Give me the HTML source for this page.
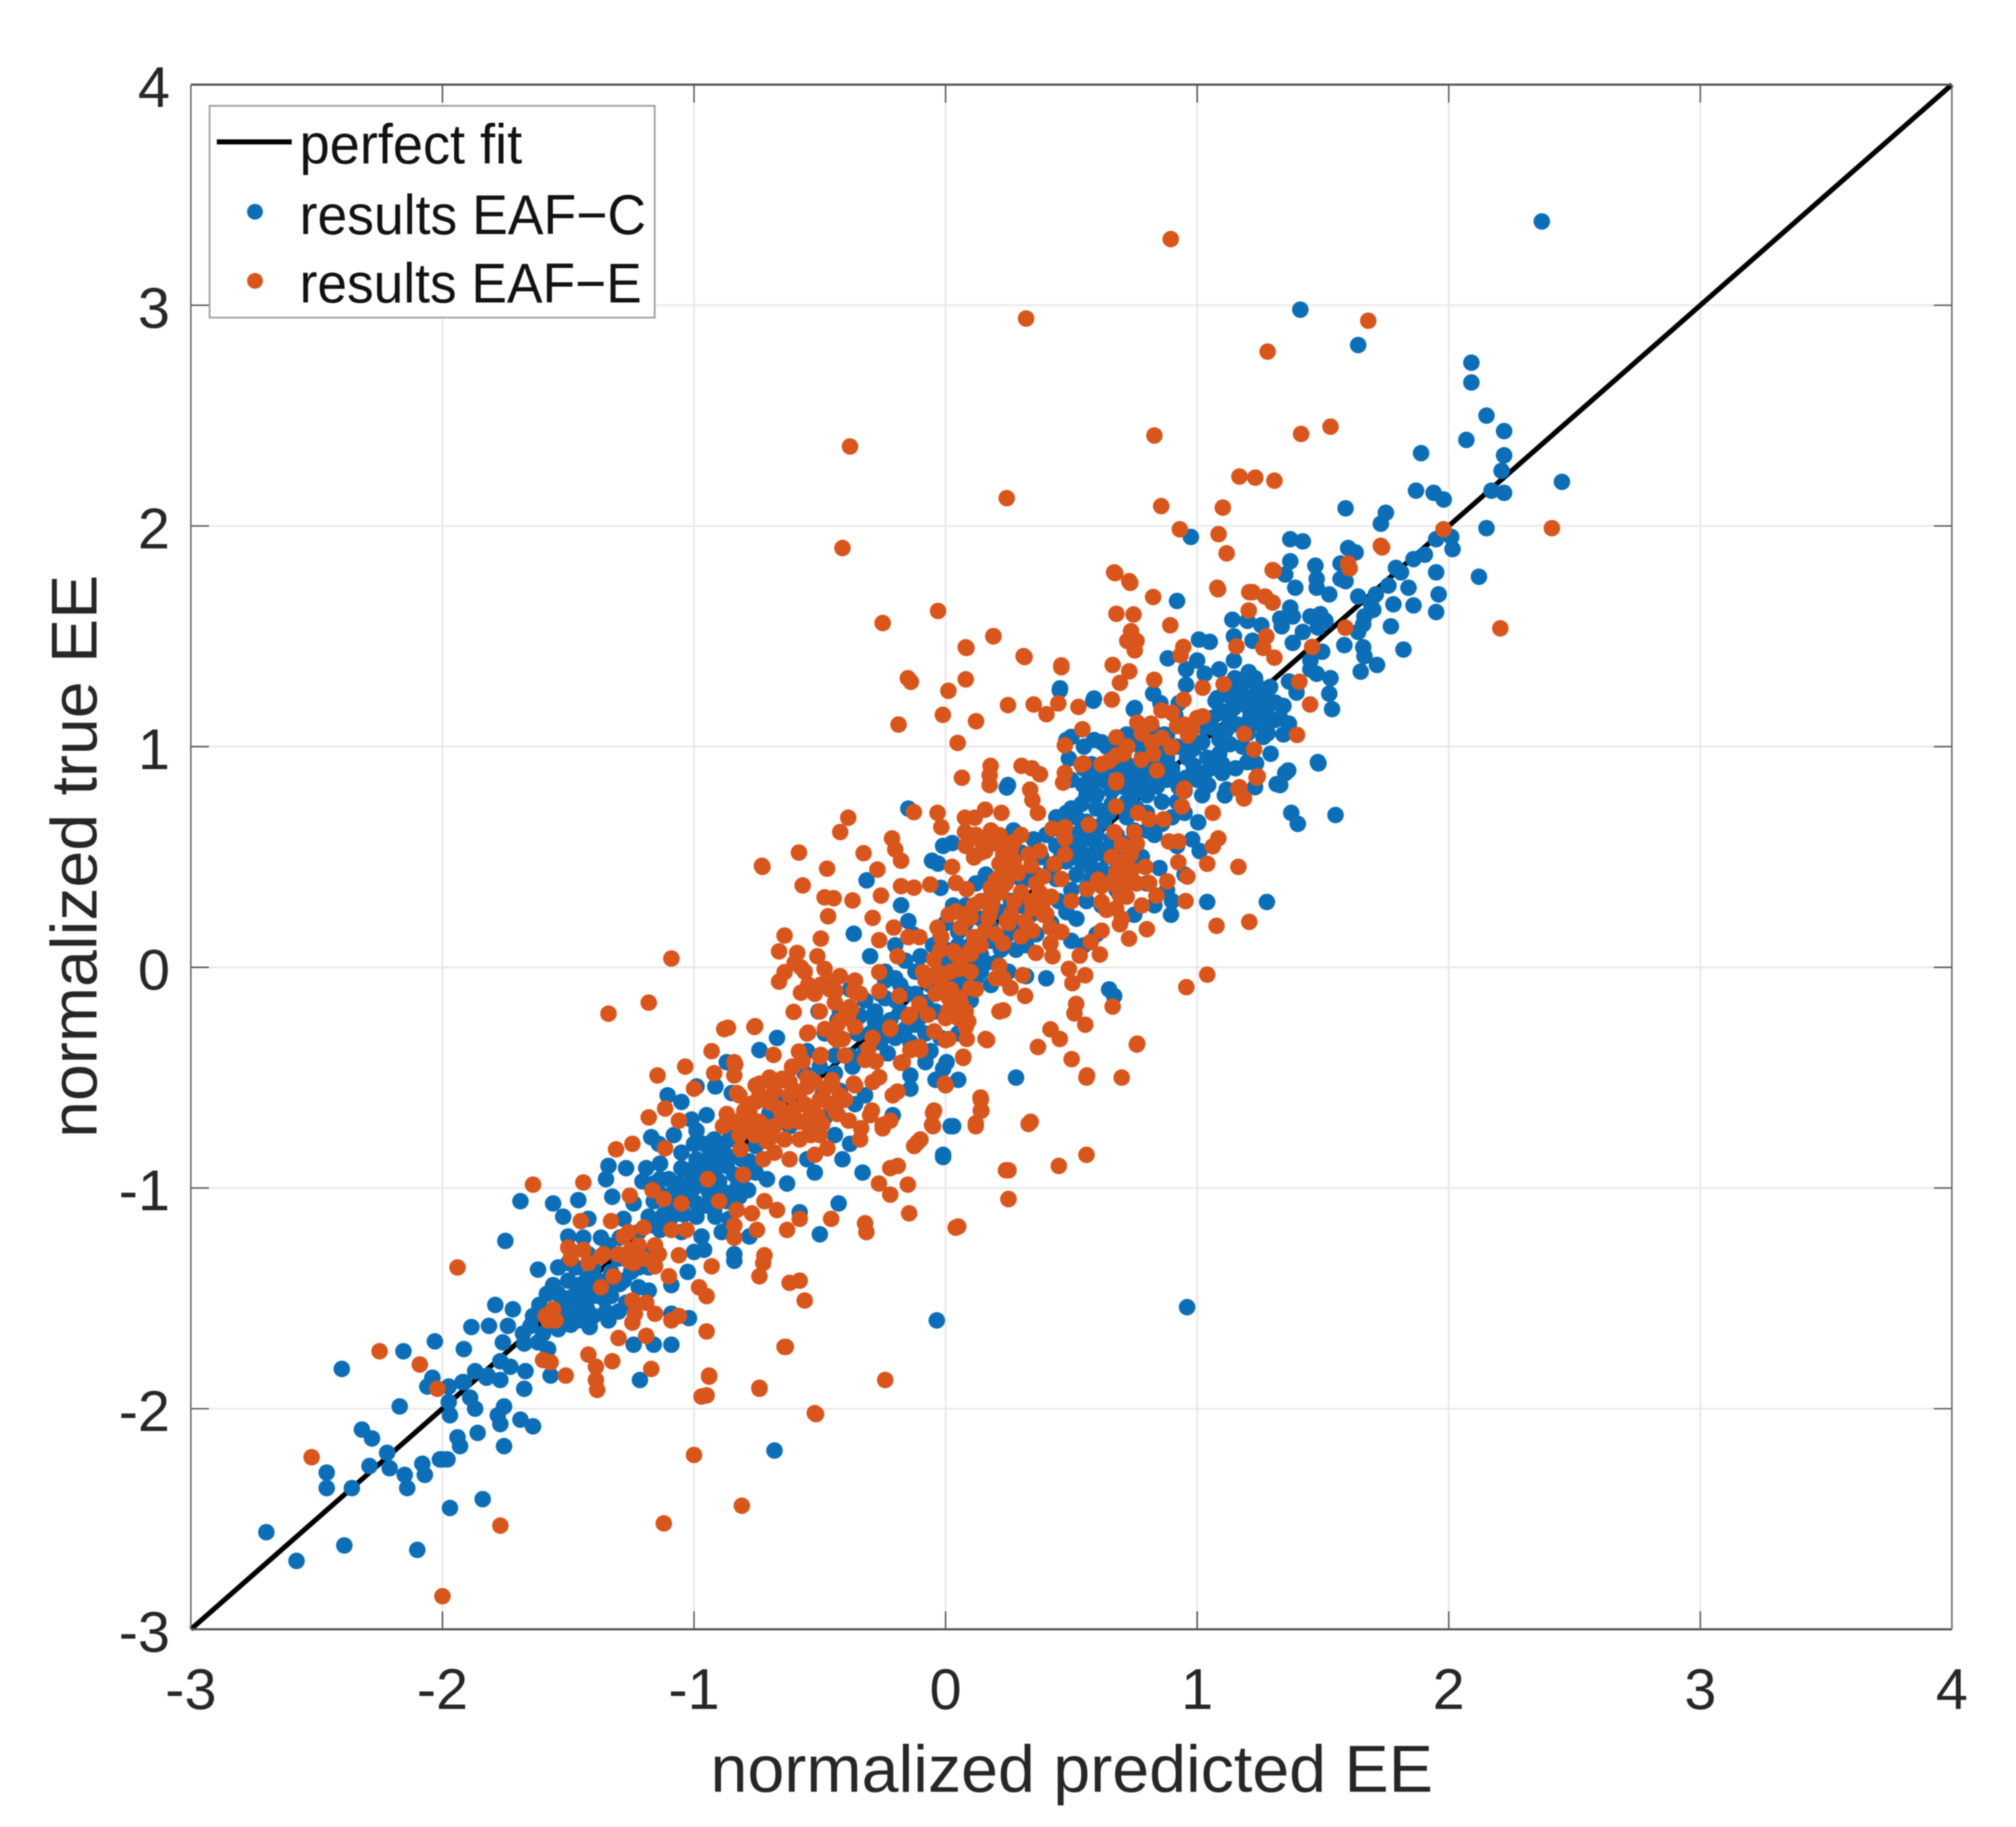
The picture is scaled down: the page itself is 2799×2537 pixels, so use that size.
<!DOCTYPE html>
<html lang="en">
<head>
<meta charset="utf-8">
<title>Normalized predicted vs true EE</title>
<style>
html,body{margin:0;padding:0;background:#fff;width:2799px;height:2537px;overflow:hidden}
svg{display:block;font-family:"Liberation Sans",sans-serif;filter:blur(0.7px)}
</style>
</head>
<body>
<svg id="chart" xmlns="http://www.w3.org/2000/svg" width="2799" height="2537" viewBox="0 0 2799 2537">
<rect x="0" y="0" width="2799" height="2537" fill="#ffffff"/>
<g id="grid"></g>
<g id="fit"></g>
<g id="seriesC"></g>
<g id="seriesE"></g>
<g id="axes"></g>
<text x="1488" y="2488" font-size="92" fill="#262626" text-anchor="middle" textLength="1003" lengthAdjust="spacingAndGlyphs">normalized predicted EE</text>
<text transform="translate(134,1189) rotate(-90)" font-size="90" fill="#262626" text-anchor="middle" textLength="782" lengthAdjust="spacingAndGlyphs">normalized true EE</text>
<g>
<rect x="291" y="147" width="618" height="294" fill="#ffffff" stroke="#a0a0a0" stroke-width="2.5"/>
<line x1="301" y1="197" x2="405" y2="197" stroke="#000" stroke-width="7"/>
<text x="416" y="227" font-size="78" fill="#111" textLength="309" lengthAdjust="spacingAndGlyphs">perfect fit</text>
<circle cx="354" cy="294" r="11" fill="#0B6EB6"/>
<text x="416" y="325" font-size="78" fill="#111" textLength="481" lengthAdjust="spacingAndGlyphs">results EAF−C</text>
<circle cx="354" cy="390" r="11" fill="#D8551C"/>
<text x="416" y="420" font-size="78" fill="#111" textLength="475" lengthAdjust="spacingAndGlyphs">results EAF−E</text>
</g>
</svg>
<script>
const xTicks = [-3,-2,-1,0,1,2,3,4];
const yTicks = [-3,-2,-1,0,1,2,3,4];
const fitLine = [-3,4];
const eafC = [
[2.37,3.38],[1.41,2.98],[1.64,2.82],[2.09,2.74],[2.09,2.65],[2.15,2.5],[2.22,2.43],[2.07,2.39],[1.89,2.33],[2.22,2.32],[2.21,2.25],[2.45,2.2],[1.87,2.16],[1.94,2.15],[1.98,2.12],[2.17,2.16],[2.22,2.15],[1.59,2.08],[1.75,2.06],[1.73,2.01],[2.15,1.99],[.975,1.95],[1.37,1.94],[1.42,1.93],[2.015,1.895],[1.95,1.94],[2.01,1.95],[1.905,1.87],[1.86,1.85],[1.6,1.9],[1.63,1.88],[1.57,1.83],[1.6,1.82],[1.57,1.76],[1.59,1.75],[1.37,1.84],[1.35,1.78],[1.47,1.82],[1.475,1.76],[1.475,1.72],[1.39,1.72],[1.525,1.69],[1.79,1.81],[1.81,1.79],[1.95,1.79],[2.12,1.77],[1.76,1.73],[1.84,1.72],[1.96,1.69],[1.64,1.68],[1.71,1.69],[1.69,1.65],[1.78,1.645],[1.86,1.64],[1.95,1.61],[1.7,1.62],[1.665,1.59],[1.77,1.545],[1.66,1.555],[1.64,1.52],[1.585,1.46],[1.82,1.44],[1.66,1.45],[1.665,1.41],[1.715,1.37],[1.65,1.34],[.92,1.66],[1.53,1.31],[1.525,1.24],[1.536,1.17],
[1.14,1.575],[1.2,1.57],[1.255,1.55],[1.37,1.63],[1.33,1.58],[1.38,1.59],[1.45,1.59],[1.49,1.6],[1.51,1.57],[1.42,1.52],[1.48,1.54],[1.38,1.47],[1.336,1.545],[1.146,1.5],[1.22,1.48],[1.007,1.485],[1.05,1.475],[.883,1.4],[1,1.39],[.956,1.35],[1.088,1.35],[1.03,1.33],[1.146,1.39],[1.497,1.43],[1.45,1.39],[1.45,1.35],[1.475,1.33],[.956,1.28],[1.365,1.295],[1.395,1.245],
[1.205,1.338],[1.175,1.283],[1.234,1.283],[1.13,1.229],[1.19,1.229],[1.263,1.229],[1.073,1.207],[1.146,1.175],[1.205,1.175],[1.277,1.175],[1.343,1.185],[1.088,1.153],[1.13,1.12],[1.248,1.131],[1.307,1.12],[1.058,1.087],[1.117,1.077],[1.365,1.104],[1.343,1.055],[1.088,1.033],[1.13,1.011],[1.263,1.044],[1.292,.968],[1.234,.924],[1.153,.902],[1.088,.968],[1.03,1.087],[.985,.99],[.985,.914],[1.03,.881],[.956,.859],[1.044,.826],[.927,.816],[.825,1.24],[.854,1.197],[.752,1.175],[.927,1.197],[.59,1.218],[.455,1.264],[.913,1.142],[1.482,.924],[1.362,.892],[1.33,.826],[1.23,.816],[1.117,.805],[.248,.826],[.5,1.044],[.59,1.03],[.64,1],[.72,1.055],[.81,1.05],[.87,1.055],[.766,1.01],[.49,.946],[.577,.87],[.6,.85],[.752,.88],[.78,.837],[.737,.826],[.62,.86],[.547,.826],
[.454,1.255],[.587,1.208],[.748,1.169],[.243,.815],[-.148,.719],[.026,.563],[-.054,.483],[-.314,.394],[-.177,.281],[-.148,.209],[-.365,.152],[1.04,.296],[1.277,.296],[.896,.238],[.75,.238],[.83,.281],[1.01,.527],[1.11,.779],[1.004,.657],[1.374,.7],[1.316,.83],[1.35,.88],[1.55,.69],[1.4,.65],[1.48,.93],[.65,-.1],[.67,-.13],[.28,-.5],[.02,-.72],[-.01,-.86],
[.5,.85],[.55,.9],[.62,.88],[.72,.92],[.78,.95],[.85,.98],[.5,.72],[.56,.78],[.6,.72],[.66,.8],[.72,.75],[.78,.82],[.8,.7],[.86,.75],[.48,.62],[.52,.68],[.58,.64],[.63,.66],[.68,.6],[.75,.62],[.83,.6],[.9,.68],[.44,.55],[.5,.56],[.55,.58],[.6,.55],[.64,.5],[.7,.5],[.78,.5],[.85,.45],[.38,.5],[.42,.45],[.48,.48],[.52,.42],[.58,.4],[.62,.38],[.35,.58],[.3,.52],[.27,.62],[.92,.85],[.95,.8],[.9,.9],[.96,.95],[1,.85],[1.02,.78],[.95,.7],[1.05,.9],[1.1,.88],[.98,1],[.88,1.05],[.82,1.08],[.75,1.03],[.68,1],[.62,1.02],[.55,1],[.48,1.03],[.58,.5],[.54,.48],[.66,.58],[.72,.68],[.76,.72],[.82,.88],[.58,.92],[.65,.7],[.54,.62],[.68,.44],[.56,.3],[.62,.28],[.72,.4],[.8,.38],[.88,.35],[.92,.55],[.98,.58],[.95,.42],[.9,.3],
[.25,.45],[.2,.35],[.15,.3],[.12,.38],[.22,.25],[.27,.18],[.32,.1],[.36,.15],[.42,.2],[.48,.25],[.5,.12],[.55,.1],[.6,.15],[.52,.22],[.45,.3],[.38,.33],[.3,.28],[.18,.18],[.12,.12],[.08,.2],[.05,.1],[.1,.03],[.16,.02],[.22,.08],[.03,.28],[-.02,.36],[-.03,.47],[0,.2],[-.01,.55],[.05,-.05],[0,.02],[-.05,.1],[-.1,.05],[-.12,-.02],[-.06,-.08],[.02,-.12],[.1,-.15],[.18,-.08],[.25,-.02],[.32,-.04],[.4,-.05],[.12,-.05],[-.2,-.05],[-.26,-.12],[-.32,-.15],[-.28,-.25],[-.35,-.3],[-.2,-.15],[-.15,-.12],[-.1,-.2],[-.24,-.02],[-.3,.05],[-.16,.03],[-.2,.1],[-.13,.15],[-.08,-.3],[-.02,-.32],[.05,-.3],[-.38,-.1],[-.42,-.2],[-.48,-.3],[-.55,-.38],
[-.67,-.32],[-.74,-.375],[-.505,-.2],[-.43,-.24],[-.28,-.21],[-.24,-.29],[-.11,-.24],[-.23,-.39],[-.14,-.49],[-.08,-.43],[.004,-.43],[.05,-.51],[-.04,-.51],[-.14,-.55],[-.01,-.46],[-.5,-.45],[-.44,-.4],[-.37,-.45],[-.49,-.58],[-.42,-.56],[-.32,-.58],[-.36,-.62],[-.44,-.62],[-.21,-.67],[-.01,-.85],[.03,-.72],[-.41,-.87],[-.33,-.93],[-.52,-.93],[-.55,-.87],[-.425,-1.07],[-.5,-1.21],[-.035,-1.6],[.96,-1.54],[-.68,-2.19],
[-1.105,-.58],[-1.05,-.61],[-.99,-.54],[-.915,-.54],[-.85,-.57],[-.87,-.43],[-1.01,-.69],[-.95,-.67],[-.99,-.74],[-1.17,-.77],[-1.34,-.9],[-1.27,-.91],[-1.35,-.96],[-1.19,-.91],[-1.135,-.89],[-1.205,-.97],[-1.135,-.96],[-1.05,-.84],[-1.05,-.91],[-.99,-.87],[-.945,-.81],[-.885,-.83],[-.83,-.74],[-.77,-.69],[-.87,-.9],[-.81,-.87],[-.755,-.81],[-.97,-.96],[-.9,-.97],[-.83,-1],[-.785,-1.01],[-.87,-1.06],[-1.02,-.985],[-1.09,-1.03],[-1.16,-1.06],[-1.24,-1.07],[-.99,-1.07],[-.915,-1.13],[-.99,-1.13],[-1.076,-1.12],[-1.18,-1.13],[-1.135,-1.19],[-1.05,-1.2],[-.755,-.93],[-.71,-.96],[-.63,-.98],[-.58,-1.11],[-.89,-1.2],[-.97,-1.22],[-.96,-1.28],[-1,-1.29],[-.84,-1.3],[-.84,-1.33],[-.78,-1.22],[-1.025,-1.38],[-1.09,-1.44],[-1.02,-1.59],[-1.09,-1.57],[-1.24,-1.71],[-1.16,-1.71],[-1.09,-1.71],[-1.215,-1.87],[-.92,-.78],[-.86,-.78],[-1,-.8],[-.93,-.9],[-1.1,-.96],
[-1.69,-1.06],[-1.56,-1.07],[-1.46,-1.055],[-1.325,-1.04],[-1.52,-1.13],[-1.42,-1.14],[-1.28,-1.14],[-1.5,-1.22],[-1.44,-1.225],[-1.37,-1.225],[-1.295,-1.225],[-1.22,-1.2],[-1.16,-1.17],[-1.75,-1.24],[-1.62,-1.37],[-1.54,-1.36],[-1.47,-1.36],[-1.4,-1.36],[-1.33,-1.38],[-1.25,-1.38],[-1.18,-1.36],[-1.5,-1.42],[-1.425,-1.41],[-1.295,-1.435],[-1.22,-1.45],[-1.18,-1.465],[-1.54,-1.48],[-1.47,-1.48],[-1.4,-1.49],[-1.33,-1.49],[-1.27,-1.52],[-1.585,-1.48],[-1.615,-1.53],[-1.53,-1.54],[-1.425,-1.55],[-1.35,-1.56],[-1.34,-1.6],[-1.49,-1.62],[-1.54,-1.64],[-1.415,-1.63],[-1.65,-1.625],[-1.6,-1.66],[-1.79,-1.53],[-1.72,-1.55],[-1.885,-1.63],[-1.815,-1.625],[-1.74,-1.625],[-2.03,-1.695],[-1.915,-1.73],[-1.76,-1.7],[-1.675,-1.705],[-1.58,-1.73],[-1.77,-1.785],[-1.73,-1.81],[-1.67,-1.83],[-1.57,-1.85],[-1.87,-1.83],[-1.825,-1.86],[-1.77,-1.87],[-1.675,-1.91],[-1.915,-1.88],[-1.975,-1.9],[-1.89,-1.95],[-1.975,-1.97],[-1.87,-2],[-1.97,-2.03],[-1.755,-1.99],[-1.78,-2.03],[-1.77,-2.07],[-1.69,-2.05],[-1.64,-2.08],[-1.86,-2.11],[-1.94,-2.13],[-1.93,-2.17],[-1.755,-2.17],[-2.01,-2.23],[-1.98,-2.23],[-1.84,-2.41],[-1.97,-2.45],
[-2.155,-1.74],[-2.4,-1.82],[-2.04,-1.86],[-2.06,-1.9],[-1.92,-1.88],[-1.82,-1.85],[-2.17,-1.99],[-2.32,-2.095],[-2.28,-2.135],[-2.22,-2.2],[-2.29,-2.26],[-2.21,-2.27],[-2.46,-2.29],[-2.46,-2.36],[-2.36,-2.36],[-2.15,-2.3],[-2.14,-2.36],[-2.08,-2.25],[-2.07,-2.3],[-2,-2.23],[-2.7,-2.56],[-2.58,-2.69],[-2.39,-2.62],[-2.1,-2.64],
[1.02,1.02],[1.06,1.13],[1.1,1.05],[1.12,1.16],[1.16,1.1],[1.16,1.22],[1.2,1.06],[1.21,1.13],[1.22,1.22],[1.25,1.1],[1.26,1.18],[1.29,1.27],[1.31,1.2],[1.18,1],[1.12,1.27],[1.08,1.22],[1.04,.95],[1.15,1.31],[1.23,1.31],[1.28,1.06],[1.33,1.13],[1.1,.92],[1.2,.93],
[.72,.85],[.76,.88],[.8,.92],[.84,.82],[.88,.85],[.74,.78],[.7,.82],[.68,.9],[.8,.78],[.84,.9],[.88,.95],[.92,1],[.92,.75],[.78,1],[.7,.95],[.66,.74],[.64,.84],[.58,.84],[.54,.74],[.6,.78],[.86,.65],[.8,.62],
[.46,.5],[.5,.5],[.54,.52],[.58,.45],[.6,.6],[.66,.54],[.62,.44],[.56,.36],[.5,.35],[.44,.4],[.46,.62],[.52,.6],[.56,.66],[.48,.7],[.44,.68],[.4,.6],[.36,.42],[.33,.4],[.68,.35],[.72,.56],[.74,.46],
[0,.08],[.06,.05],[.1,.1],[.14,.06],[.18,.12],[.2,.02],[.24,.14],[.28,.08],[.05,.16],[-.02,.14],[-.04,.04],[.02,-.04],[.08,-.08],[.14,-.02],[.3,.2],[.34,.24],[.26,.3],[.14,.22],[.08,.28],[.2,.4],[.3,.4],[.16,.42],
[-.28,-.2],[-.24,-.14],[-.22,-.24],[-.18,-.2],[-.16,-.28],[-.12,-.12],[-.12,-.26],[-.08,-.16],[-.3,-.3],[-.26,-.34],[-.2,-.32],[-.34,-.22],[-.18,-.08],[-.24,-.06],[-.04,-.2],[-.14,-.34],[-.06,-.38],[-.32,-.38],[-.38,-.4],[-.44,-.48],[-.56,-.48],[-.6,-.56],[-.66,-.6],[-.7,-.66],[-.62,-.72],[-.56,-.7],[-.48,-.68],[-.44,-.76],[-.38,-.8],
[-.98,-.92],[-.94,-.86],[-.9,-.9],[-.86,-.86],[-.84,-.94],[-.92,-.94],[-.88,-1.02],[-.94,-1.02],[-1,-1],[-1.04,-1.04],[-1.08,-1.1],[-1.12,-1.12],[-1.14,-1.02],[-1.06,-.98],[-1.02,-.92],[-.96,-1.08],[-.92,-1.1],[-.82,-1.04],[-.8,-.94],[-.78,-.88],[-.9,-.84],[-.96,-.8],[-1.08,-.76],[-1.14,-.8],[-1.1,-1.16],[-1.04,-1.12],[-.86,-1.14],[-1.16,-.98],
[-1.5,-1.5],[-1.46,-1.44],[-1.44,-1.52],[-1.42,-1.46],[-1.38,-1.42],[-1.36,-1.5],[-1.32,-1.44],[-1.3,-1.32],[-1.28,-1.42],[-1.26,-1.3],[-1.48,-1.56],[-1.52,-1.6],[-1.56,-1.56],[-1.58,-1.6],[-1.46,-1.6],[-1.4,-1.58],[-1.3,-1.56],[-1.22,-1.36],[-1.2,-1.3],[-1.34,-1.26],[-1.42,-1.3],[-1.5,-1.34],[-1.56,-1.44],[-1.64,-1.58],[-1.68,-1.66],[-1.62,-1.7]
];
const eafE = [
[.895,3.3],[.32,2.94],[1.68,2.93],[1.28,2.79],[.83,2.41],[1.413,2.417],[1.53,2.45],[-.38,2.36],[1.168,2.224],[1.231,2.219],[1.307,2.205],[.243,2.126],[.857,2.09],[1.102,2.083],[.931,1.985],[1.085,1.963],[1.117,1.876],[1.979,1.985],[2.41,1.99],[-.41,1.9],[1.735,1.903],[1.606,1.808],[1.304,1.797],[.674,1.786],[.734,1.742],[.825,1.678],[1.083,1.713],[1.207,1.7],[1.27,1.68],[1.3,1.653],[1.205,1.617],[.679,1.602],[.747,1.599],[.893,1.55],[.737,1.523],[.722,1.479],[.759,1.479],[.752,1.436],[1.589,1.539],[2.205,1.536],[.19,1.501],[.083,1.447],[.314,1.406],[.46,1.368],[.664,1.37],[.73,1.341],[.08,1.305],[.011,1.253],[.693,1.289],[.829,1.303],[.248,1.188],[.35,1.191],[.401,1.147],[.448,1.196],[.528,1.18],[.661,1.213],[-.011,1.144],[.121,1.115],[.858,1.164],[.762,1.109],[.817,1.104],[.946,1.213],[1.022,1.267],[1.105,1.283],[1.156,1.454],[1.263,1.447],[1.307,1.403],[1.457,1.452],[.945,1.452],[.934,1.414],[1.275,1.5],[1.406,1.294],[1.449,1.191],[.9,1.153],[1.022,1.137],[.92,1.093],[.964,1.05],[1.187,1.058],[1.397,1.053],[1.226,.987],[1.241,.865],[.544,1.079],[.679,1.042],[.474,1.006],[.723,1],[.825,.968],[.898,.995],[.708,.968],[.65,.935],[.778,.941],[.54,.919],[.474,.881],[.467,.837],[.302,.913],[.343,.902],[.375,.875],[.179,.913],[.175,.87],[.175,.826],[.065,.859],[.679,.848],[.84,.892],[.949,.81],[1.168,.816],[.336,.805],[.048,1.017],[-.03,1.615],
[-.138,1.294],[-.187,1.1],[-.25,1.56],[-.15,1.31],[.08,1.45],[.31,1.41],[.46,1.36],[.19,1.5],
[.548,.924],[.678,.837],[.946,.8],[.939,.729],[1.062,.7],[1.236,.859],[1.164,.808],[1.186,.765],[1.084,.584],[1.062,.548],[1.04,.469],[1.164,.455],[.925,.476],[.881,.39],[.961,.411],[.954,.3],[1.077,.188],[1.207,.206],[1.04,-.033],[.957,-.09],[.8,.173],[.729,.13],[.613,.058],[.533,.053],[.577,.115],[.62,.166],[.562,.354],[.606,.397],[.678,.426],[.678,.729],[.57,.646],[.425,.628],[.475,.635],[.475,.584],[.345,.758],[.367,.7],[.765,.7],[.809,.671],[.867,.671],[.888,.57],[.925,.57],[.671,.613],[.7,.556],[.75,.613],[.736,.512],[.794,.455],[.809,.382],[.693,.455],[.722,.382],[.693,.325],[.62,.368],[.62,.296],[.678,.267],[.693,.195],[.838,.325],
[-.032,.7],[-.017,.635],[-.126,.703],[-.213,.584],[-.2,.534],[-.177,.483],[-.387,.678],[-.419,.613],[-.583,.52],[-.728,.455],[-.471,.447],[-.326,.517],[-.271,.443],[-.568,.371],[-.481,.317],[-.445,.313],[-.37,.303],[-.467,.231],[-.29,.224],[-.257,.325],[-.177,.368],[-.126,.361],[-.061,.375],[.077,.678],[.116,.678],[.157,.714],[.222,.7],[.077,.613],[.128,.584],[.214,.599],[.272,.57],[.157,.527],[.113,.498],[.229,.512],[.214,.469],[.272,.483],[.33,.512],[.374,.527],[.287,.426],[.229,.426],[.2,.397],[.388,.411],[.475,.512],[.432,.469],[.026,.455],[.041,.382],[.084,.354],[.374,.339],[.388,.296],[.345,.267],[.272,.296],[.186,.296],[.113,.281],[.041,.253],[.012,.238],[.099,.224],[.171,.224],[.243,.209],[.316,.209],[.388,.238],[.345,.166],[.417,.18],[.417,.108],[.359,.065],[.425,.05],[.229,.108],[.157,.166],[.113,.137],[-.032,.18],[-.104,.137],[-.148,.137],[-.206,.18],[-.264,.123],[-.017,.137],[.033,.072],[.055,-.007],[.214,.007],[.2,-.05],[.258,-.094],[.229,-.05],[.316,-.13],[.306,-.036],[.49,-.007],[.504,-.072],[.555,-.036],[.664,-.178],[.519,-.166],[.512,-.209],[.555,-.26],[.762,-.346],[.417,-.281],[.454,-.325],[.367,-.361],[.501,-.416],[.562,-.49],[.338,-.7],[.229,-.195],[.214,-.2],[.159,-.325],[.139,-.59],[.142,-.65],[.12,-.707],[-.046,-.649],[-.054,-.714],[-.112,-.794],
[-.51,.05],[-.481,-.007],[-.452,-.065],[-.496,-.079],[-.438,-.108],[-.546,-.079],[-.662,-.065],[-.64,-.022],[-.59,.065],[-.662,.072],[-.64,.144],[-.496,.13],[-.575,0],[-.575,-.115],[-.365,-.108],[-.394,-.195],[-.604,-.202],[-.757,-.267],[-.865,-.274],[-.546,-.296],[-.409,-.325],[-.307,-.368],[-.278,-.426],[-.568,-.426],[-.61,-.455],[-.496,-.397],[-.684,-.397],[-.264,-.498],[-.191,-.563],[-.365,-.527],[-.452,-.512],[-.55,-.541],[-.638,-.512],[-.739,-.527],[-.836,-.44],[-.264,-.022],[-.191,.05],[-.046,.036],[-.09,-.022],[-.032,-.022],[.099,-.094],[.055,-.137],[.012,-.137],[.07,-.224],[.012,-.195],[-.104,-.166],[-.148,-.224],[-.22,-.274],[-.264,-.108],[-.184,-.13],[-.133,-.368],[-.104,-.361],[-.177,-.433],[.012,-.325],[.084,-.325],[.07,-.411],[-.003,-.527],[-.829,-.57],[-.583,-.382],[-.438,-.656],[-.539,-.743],[-.699,-.613],[-.8,-.656],[-.336,-.729],[-.293,-.649],[-.25,-.714],[-.51,-.671],[-.626,-.7],[-.713,-.787],[-.843,-.7],
[-1.34,-.21],[-1.18,-.16],[-1.09,.04],[-.73,.46],[-.88,-.28],[-.76,-.27],[-.93,-.38],[-1.035,-.45],[-1.145,-.49],[-.84,-.43],[-.84,-.49],[-.92,-.48],[-1.18,-.68],[-1.115,-.64],[-1.06,-.695],[-1,-.55],[-1.31,-.825],[-1.245,-.8],[-1.115,-.82],[-1.64,-.985],[-1.44,-.975],[-1.255,-1.035],[-1.165,-1.01],[-1.12,-1.05],[-1.05,-1.07],[-.945,-.96],[-.815,-.825],[-.805,-.94],[-.9,-1.06],[-.83,-1.1],[-.77,-1.115],[-.72,-1.06],[-.67,-1.1],[-.63,-1.19],[-.58,-1.14],[-.84,-1.17],[-.84,-1.225],[-.75,-1.19],[-1.45,-1.15],[-1.33,-1.15],[-1.5,-1.27],[-1.49,-1.32],[-1.37,-1.31],[-1.25,-1.28],[-1.22,-1.26],[-1.155,-1.26],[-1.26,-1.33],[-1.155,-1.355],[-1.09,-1.19],[-1.03,-1.19],[-1.06,-1.305],[-1.37,-1.45],[-1.1,-1.4],[-.93,-1.355],[-.98,-1.45],[-.95,-1.49],[-.72,-1.305],[-.725,-1.34],[-.74,-1.4],[-.62,-1.43],[-.58,-1.42],[-.56,-1.51],[-1.245,-1.51],[-1.19,-1.52],[-1.235,-1.57],[-1.245,-1.61],[-1.155,-1.57],[-1.09,-1.6],[-1.06,-1.58],[-.95,-1.65],[-1.3,-1.68],[-1.19,-1.67],[-1.42,-1.755],[-1.59,-1.58],[-1.56,-1.55],[-1.6,-1.78],[-1.57,-1.79],[-1.51,-1.85],[-1.39,-1.81],[-1.325,-1.785],[-1.39,-1.87],[-1.385,-1.915],[-1.17,-1.82],[-.94,-1.855],[-.97,-1.945],[-.74,-1.905],[-.24,-1.87],[-.635,-1.72],[-.515,-2.025],[-1,-2.21],[-.81,-2.44],[-.265,-.98],[-.22,-.91],[-.19,-.9],[-.15,-.985],[-.22,-1.03],[-.145,-1.115],[.05,-1.175],[-.32,-1.16],[-.315,-1.2],[-.455,-1.14],[-.52,-.85],[-.47,-.82],[-.25,-.73],[-.22,-.695],[-.3,-.67],[-.125,-.81],[-.1,-.78],[-.05,-.66],[-.05,-.72],[.12,-.72],[.14,-.65],[.14,-.6],[.24,-.92],[.25,-1.05],[.165,-.33],
[-.87,-.665],[-.8,-.65],[-.755,-.535],[-.755,-.61],[-.695,-.61],[-.885,-.72],[-.65,-.665],[-.65,-.505],[-.61,-.45],[-.58,-.565],[-.535,-.635],[-.61,-.68],[-.43,-.665],[-.385,-.695],[-.49,-.71],[-.535,-.76],[-.34,-.78],[-.695,-.77],[-.68,-.84],[-.725,-.87],[-.62,-.87],[-.52,-.52],[-.45,-.535],[-.36,-.535],[-.29,-.52],[-.32,-.42],[-.43,-.33],[-.43,-.26],[-.36,-.27],[-.29,-.32],[-.14,-.375],[-.1,-.375],[-.21,-.58],[0,-.535],[-.55,-.3],[-.5,-.405],[0,-.33],[.07,-.405],[-.045,-.29],[-.22,-.28],[-.14,-.215],[-.07,-.215],[.05,-.23],[.09,-.245],[.035,-.2],[-.39,-.23],[-.375,-.19],[-.17,-.43],[0,-.23],[.08,-.27],
[-2.25,-1.74],[-2.09,-1.8],[-2.02,-1.91],[-2.52,-2.22],[-1.77,-2.53],[-2,-2.85],[-1.94,-1.36],[-1.12,-2.52],[-.64,-1.72],[-.74,-1.91],[.04,-1.18],[.25,-1.05],[.25,-.92],[.45,-.9],[.56,-.85],[.33,-.71],[.76,-.35],[.56,-.5],[.7,-.5],[-.94,-1.85],[-.95,-1.94],[-.52,-2.02],
[1.73,1.91],[1.6,1.83],[1.22,1.7],[1.3,1.8],[1.08,1.72],[.67,1.79],[.73,1.75],
[-.72,-.6],[-.68,-.56],[-.66,-.64],[-.62,-.58],[-.6,-.64],[-.58,-.7],[-.56,-.62],[-.54,-.68],[-.5,-.6],[-.48,-.55],[-.46,-.62],[-.42,-.58],[-.4,-.6],[-.62,-.52],[-.68,-.72],[-.74,-.7],[-.78,-.62],[-.7,-.5],[-.55,-.5],[-.64,-.78],[-.58,-.78],[-.5,-.76],[-.82,-.76],
[-.46,-.1],[-.44,-.16],[-.42,-.24],[-.38,-.18],[-.36,-.06],[-.34,-.12],[-.5,-.2],[-.48,-.28],[-.44,-.32],[-.4,-.4],[-.52,-.12],[-.56,-.02],[-.6,.02],[-.42,-.04],
[.14,.3],[.18,.26],[.22,.34],[.26,.24],[.3,.34],[.34,.3],[.36,.38],[.42,.32],[.28,.44],[.24,.38],[.18,.36],[.08,.24],[.06,.18],[.3,.14],[.25,.2],[.2,.15],[.14,.1],[.1,.06],[.4,.24],[.46,.16],[.5,.3],[.46,.4],
[.14,.58],[.18,.56],[.22,.55],[.14,.52],[.26,.54],[.18,.62],[.3,.6],[.12,.6],[.34,.46],[.08,.55],
[-.02,-.06],[.02,-.02],[.06,.02],[.1,-.02],[.02,-.1],[.06,-.16],[.02,-.2],[.08,-.2],[-.04,-.12],[-.08,-.06],[.12,-.1],[.04,.06],[-.02,.08],[.1,.08],
[-1.36,-1.3],[-1.42,-1.34],[-1.3,-1.3],[-1.24,-1.34],[-1.2,-1.32],[-1.14,-1.3],[-1.32,-1.4],[-1.44,-1.28],[-1.28,-1.22],[-1.2,-1.18],[-1.26,-1.2],[-1.58,-1.6],[-1.55,-1.6],
[-.82,-.58],[-.78,-.66],[-.74,-.58],[-.84,-.7],[-.8,-.72],[-.76,-.76],[-.72,-.72],
[.66,.5],[.7,.48],[.74,.44],[.66,.38],[.72,.32],[.76,.38],[.64,.26],[.7,.22],[.78,.28],[.76,.56],
[.82,1.02],[.86,1.04],[.9,1],[.78,1.06],[.95,1.1],[.98,1.08],[1,1.13],[.62,.92],[.68,.96],[.72,1]
];
</script>
<script>
const SVGNS = 'http://www.w3.org/2000/svg';
const plotLeft = 265, plotRight = 2710, plotTop = 117.5, plotBottom = 2262.5;
const xMin = -3, xMax = 4, yMin = -3, yMax = 4;
function sx(v){ return plotLeft + (v - xMin) / (xMax - xMin) * (plotRight - plotLeft); }
function sy(v){ return plotBottom - (v - yMin) / (yMax - yMin) * (plotBottom - plotTop); }
function mk(tag, attrs, parent){
  const el = document.createElementNS(SVGNS, tag);
  for (const k in attrs) el.setAttribute(k, attrs[k]);
  parent.appendChild(el);
  return el;
}
const gridG = document.getElementById('grid');
const axesG = document.getElementById('axes');
const fitG = document.getElementById('fit');
const gC = document.getElementById('seriesC');
const gE = document.getElementById('seriesE');

xTicks.forEach(function(t){
  if (t > xMin && t < xMax) {
    const g = mk('line', {x1:sx(t), x2:sx(t), y1:plotTop, y2:plotBottom, stroke:'#e8e8e8', 'stroke-width':2.5}, gridG);
    
    
    const a = mk('line', {x1:sx(t), x2:sx(t), y1:plotBottom, y2:plotBottom-25, stroke:'#555', 'stroke-width':2}, axesG);
    
    
    const b = mk('line', {x1:sx(t), x2:sx(t), y1:plotTop, y2:plotTop+25, stroke:'#555', 'stroke-width':2}, axesG);
    
    
  }
  const lbl = mk('text', {x:sx(t), y:2373, 'font-size':80, fill:'#262626', 'text-anchor':'middle'}, axesG);
  
  
  lbl.textContent = String(t);
});
yTicks.forEach(function(t){
  if (t > yMin && t < yMax) {
    const g = mk('line', {x1:plotLeft, x2:plotRight, y1:sy(t), y2:sy(t), stroke:'#e8e8e8', 'stroke-width':2.5}, gridG);
    
    
    const a = mk('line', {x1:plotLeft, x2:plotLeft+25, y1:sy(t), y2:sy(t), stroke:'#555', 'stroke-width':2}, axesG);
    
    
    const b = mk('line', {x1:plotRight, x2:plotRight-25, y1:sy(t), y2:sy(t), stroke:'#555', 'stroke-width':2}, axesG);
    
    
  }
  const lbl = mk('text', {x:236, y:sy(t)+31, 'font-size':80, fill:'#262626', 'text-anchor':'end'}, axesG);
  
  
  lbl.textContent = String(t);
});
const boxTop = mk('line', {x1:plotLeft, x2:plotRight, y1:plotTop, y2:plotTop, stroke:'#555', 'stroke-width':3}, axesG);


const boxBottom = mk('line', {x1:plotLeft, x2:plotRight, y1:plotBottom, y2:plotBottom, stroke:'#555', 'stroke-width':3}, axesG);


const boxLeft = mk('line', {x1:plotLeft, x2:plotLeft, y1:plotTop, y2:plotBottom, stroke:'#666', 'stroke-width':2}, axesG);


const boxRight = mk('line', {x1:plotRight, x2:plotRight, y1:plotTop, y2:plotBottom, stroke:'#666', 'stroke-width':2}, axesG);



const fit = mk('line', {x1:sx(fitLine[0]), y1:sy(fitLine[0]), x2:sx(fitLine[1]), y2:sy(fitLine[1]), stroke:'#000', 'stroke-width':7}, fitG);



eafC.forEach(function(p){
  const c = mk('circle', {cx:sx(p[0]), cy:sy(p[1]), r:11.5, fill:'#0B6EB6'}, gC);
  
  
});
eafE.forEach(function(p){
  const c = mk('circle', {cx:sx(p[0]), cy:sy(p[1]), r:11.5, fill:'#D8551C'}, gE);
  
  
});
</script>
</body>
</html>
